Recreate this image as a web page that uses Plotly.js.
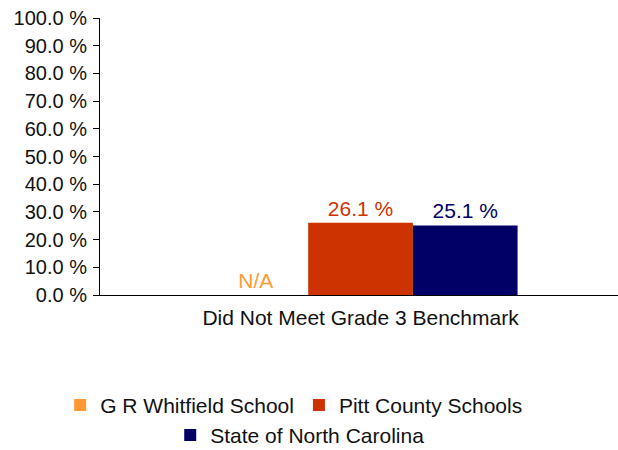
<!DOCTYPE html>
<html><head><meta charset="utf-8">
<script src="https://cdn.plot.ly/plotly-3.0.1.min.js"></script>
<style>html,body{margin:0;padding:0;background:#fff}</style>
</head><body>
<div id="chart" style="width:618px;height:450px"></div>
<script>
const categories = ["Did Not Meet Grade 3 Benchmark"];
const seriesNames = ["G R Whitfield School", "Pitt County Schools", "State of North Carolina"];
const whitfield = [0];
const whitfieldText = ["N/A"];
const pitt = [26.1];
const nc = [25.1];
const colors = ["#FF9933", "#CC3300", "#000066"];
const yTicks = [0,10,20,30,40,50,60,70,80,90,100];

const FS = 21;
const font = {family: "Arial, Liberation Sans, sans-serif", size: FS, color: "#111"};
function mk(name, vals, txt, color, legend) {
  return {
    type: "bar", name: name, x: categories, y: vals,
    text: txt, textposition: "outside", cliponaxis: false,
    textfont: {family: font.family, size: FS, color: color},
    marker: {color: color}, hoverinfo: "none", legend: legend
  };
}
const data = [
  mk(seriesNames[0], whitfield, whitfieldText, colors[0], "legend"),
  mk(seriesNames[1], pitt, pitt.map(v => v.toFixed(1) + " %"), colors[1], "legend"),
  mk(seriesNames[2], nc, nc.map(v => v.toFixed(1) + " %"), colors[2], "legend2")
];
const legFont = {family: font.family, size: FS, color: "#111"};
const layout = {
  width: 618, height: 450,
  margin: {l: 100, r: 0, t: 18, b: 155},
  font: font,
  paper_bgcolor: "#fff", plot_bgcolor: "#fff",
  barmode: "group", bargap: 0.39, bargroupgap: 0,
  showlegend: true,
  legend: {orientation: "h", xref: "container", yref: "container", x: 0.476, xanchor: "center",
           y: 0.145, yanchor: "top", font: legFont, traceorder: "normal", itemwidth: 30},
  legend2: {orientation: "h", xref: "container", yref: "container", x: 0.485, xanchor: "center",
           y: 0.078, yanchor: "top", font: legFont, traceorder: "normal", itemwidth: 30},
  xaxis: {type: "category", range: [-0.506, 0.5], showline: true, linecolor: "#000", linewidth: 1,
          ticks: "", showgrid: false, zeroline: false, fixedrange: true, ticklabelstandoff: 4,
          tickfont: {family: font.family, size: FS, color: "#111"}},
  yaxis: {range: [0, 100], tickvals: yTicks, ticktext: yTicks.map(v => v.toFixed(1) + " %"),
          showline: true, linecolor: "#000", linewidth: 1, ticks: "outside", ticklen: 6,
          tickcolor: "#000", showgrid: false, zeroline: false, ticklabelstandoff: 2,
          tickfont: {family: font.family, size: FS - 1, color: "#111"}}
};
Plotly.newPlot("chart", data, layout, {displayModeBar: false, staticPlot: true});
</script>
</body></html>
